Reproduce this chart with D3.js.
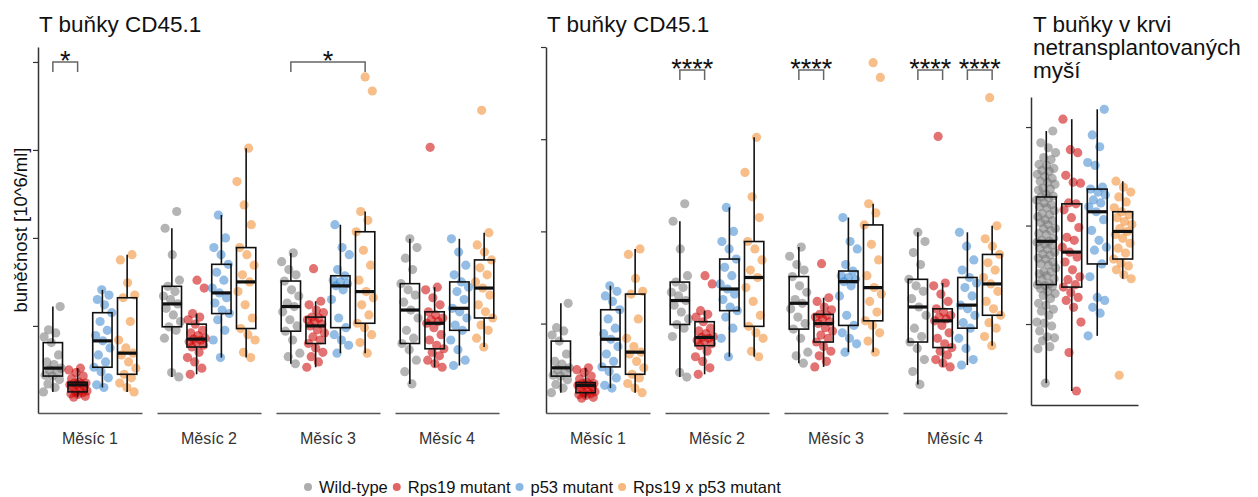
<!DOCTYPE html>
<html>
<head>
<meta charset="utf-8">
<script src="https://cdn.jsdelivr.net/npm/d3@7/dist/d3.min.js"></script>
<style>
  body { margin: 0; background: #fff; }
  svg { display: block; font-family: "Liberation Sans", Arial, sans-serif; }
</style>
</head>
<body>
<svg width="1258" height="497"></svg>
<script>
const months = ['Měsíc 1', 'Měsíc 2', 'Měsíc 3', 'Měsíc 4']
const genotypes = ['Wild-type', 'Rps19 mutant', 'p53 mutant', 'Rps19 x p53 mutant']
const colors = ['#767676', '#cc0000', '#3a87cf', '#f0892a']

// T buňky CD45.1 po transplantaci, [genotyp][myš]
const month1 = [
  [0.25, 0.30, 0.34, 0.39, 0.43, 0.44, 0.47, 0.50, 0.52, 0.56, 0.59, 0.67, 0.81, 0.875, 0.92, 0.955, 1.22],
  [0.19, 0.20, 0.22, 0.23, 0.24, 0.25, 0.26, 0.27, 0.30, 0.31, 0.33, 0.33, 0.34, 0.35, 0.35, 0.36, 0.40, 0.43, 0.47, 0.50, 0.52],
  [0.30, 0.33, 0.41, 0.48, 0.53, 0.59, 0.67, 0.75, 0.83, 0.89, 0.95, 1.05, 1.15, 1.24, 1.30, 1.35, 1.41],
  [0.25, 0.30, 0.35, 0.41, 0.45, 0.52, 0.59, 0.67, 0.69, 0.75, 0.84, 1.05, 1.32, 1.35, 1.49, 1.75, 1.81],
]
const month2 = [
  [0.42, 0.47, 0.86, 0.95, 0.99, 1.05, 1.125, 1.20, 1.25, 1.30, 1.34, 1.39, 1.45, 1.52, 1.81, 2.11, 2.30],
  [0.45, 0.52, 0.59, 0.64, 0.70, 0.76, 0.78, 0.81, 0.82, 0.84, 0.85, 0.86, 0.89, 0.92, 0.95, 1.02, 1.07, 1.10, 1.14, 1.43, 1.52],
  [0.64, 0.84, 0.95, 1.07, 1.14, 1.18, 1.26, 1.32, 1.375, 1.43, 1.52, 1.61, 1.70, 1.81, 1.89, 2.00, 2.26],
  [0.64, 0.70, 0.84, 0.90, 0.97, 1.09, 1.24, 1.39, 1.50, 1.58, 1.69, 1.81, 1.89, 2.15, 2.375, 2.64, 3.02],
]
const month3 = [
  [0.57, 0.65, 0.69, 0.84, 0.94, 1.00, 1.07, 1.16, 1.22, 1.26, 1.34, 1.41, 1.51, 1.58, 1.64, 1.73, 1.83],
  [0.53, 0.59, 0.65, 0.70, 0.75, 0.80, 0.84, 0.875, 0.92, 0.955, 1.00, 1.02, 1.05, 1.07, 1.09, 1.10, 1.15, 1.18, 1.24, 1.28, 1.65],
  [0.69, 0.78, 0.84, 0.90, 0.98, 1.09, 1.30, 1.41, 1.455, 1.48, 1.50, 1.52, 1.57, 1.64, 1.81, 1.89, 2.15],
  [0.69, 0.81, 0.90, 0.98, 1.03, 1.125, 1.24, 1.32, 1.39, 1.52, 1.69, 1.86, 2.07, 2.20, 2.30, 3.67, 3.83],
]
const month4 = [
  [0.34, 0.48, 0.61, 0.73, 0.80, 0.86, 0.95, 1.09, 1.18, 1.27, 1.35, 1.41, 1.48, 1.64, 1.77, 1.89, 1.99],
  [0.53, 0.57, 0.61, 0.66, 0.70, 0.74, 0.78, 0.84, 0.90, 0.98, 1.03, 1.05, 1.07, 1.09, 1.125, 1.16, 1.24, 1.32, 1.41, 1.44, 3.03],
  [0.55, 0.61, 0.73, 0.84, 0.95, 1.01, 1.09, 1.16, 1.20, 1.30, 1.39, 1.44, 1.50, 1.58, 1.69, 1.84, 1.99],
  [0.76, 0.86, 0.95, 1.01, 1.09, 1.16, 1.24, 1.35, 1.43, 1.50, 1.58, 1.66, 1.75, 1.84, 1.92, 2.06, 3.45],
]
const transplanted = [month1, month2, month3, month4]

// T buňky v krvi netransplantovaných myší
const naiveWT = [0.40, 0.75, 0.77, 0.83, 0.86, 0.87, 0.93, 0.98, 1.01, 1.02, 1.09, 1.13, 1.15, 1.19, 1.21, 1.26, 1.29, 1.31, 1.33, 1.36, 1.38, 1.39,
  1.40, 1.41, 1.45, 1.46, 1.49, 1.51, 1.53, 1.53, 1.57, 1.60, 1.61, 1.63, 1.66, 1.67, 1.70, 1.71, 1.73, 1.76, 1.77, 1.80, 1.81, 1.83,
  1.84, 1.85, 1.87, 1.91, 1.92, 1.95, 1.97, 1.97, 2.01, 2.03, 2.05, 2.06, 2.09, 2.11, 2.12, 2.15, 2.18, 2.19, 2.21, 2.23, 2.26, 2.28,
  2.29, 2.30, 2.32, 2.36, 2.37, 2.38, 2.42, 2.44, 2.45, 2.48, 2.50, 2.52, 2.55, 2.56, 2.58, 2.61, 2.62, 2.67, 2.69, 2.74, 2.79, 2.84, 2.96]
const naiveRps19 = [0.32, 0.71, 1.02, 1.17, 1.24, 1.27, 1.32, 1.375, 1.40, 1.45, 1.48, 1.55, 1.63, 1.68, 1.73,
  1.78, 1.85, 1.88, 1.98, 2.08, 2.16, 2.22, 2.23, 2.43, 2.44, 2.51, 2.74, 2.77, 3.08]
const naiveP53 = [0.88, 1.11, 1.17, 1.24, 1.27, 1.48, 1.61, 1.75, 1.78, 1.85, 1.95, 2.06, 2.14,
  2.19, 2.23, 2.26, 2.31, 2.34, 2.37, 2.39, 2.61, 2.64, 2.80, 2.92, 3.18]
const naiveDouble = [0.48, 1.46, 1.50, 1.55, 1.59, 1.62, 1.66, 1.72, 1.77, 1.82, 1.87, 1.91, 1.94,
  1.97, 2.01, 2.04, 2.08, 2.11, 2.14, 2.18, 2.24, 2.29, 2.34, 2.39, 2.45]
const naive = [naiveWT, naiveRps19, naiveP53, naiveDouble]

const ticksTransplant = [1, 2, 3, 4]
const ticksNaive = [1, 2, 3]

const signifA = [
  { month: 0, a: 0, b: 1, label: '*' },
  { month: 2, a: 0, b: 3, label: '*' },
]
const signifB = [
  { month: 1, a: 0, b: 1, label: '****' },
  { month: 2, a: 0, b: 1, label: '****' },
  { month: 3, a: 0, b: 1, label: '****' },
  { month: 3, a: 2, b: 3, label: '****' },
]

const svg = d3.select('svg')

const boxStats = (vals) => {
  const s = vals.slice().sort(d3.ascending)
  const q1 = d3.quantile(s, 0.25)
  const med = d3.quantile(s, 0.5)
  const q3 = d3.quantile(s, 0.75)
  const iqr = q3 - q1
  return {
    q1, med, q3,
    lo: d3.min(s.filter(v => v >= q1 - 1.5 * iqr)),
    hi: d3.max(s.filter(v => v <= q3 + 1.5 * iqr)),
  }
}

// deterministic horizontal jitter
const jitter = (i, seed) => ((i * 0.618034 + seed * 0.29) % 1) - 0.5

const drawGroups = (g, data, x, y, seed) => {
  const step = x.step()
  const bw = step * 0.78
  data.forEach((vals, gi) => {
    const cx = x(genotypes[gi])
    g.append('g').selectAll('circle')
      .data(vals)
      .join('circle')
      .attr('cx', (d, i) => cx + jitter(i, seed + gi) * 0.76 * step)
      .attr('cy', d => y(d))
      .attr('r', 4.6)
      .attr('fill', colors[gi])
      .attr('fill-opacity', 0.55)

    const st = boxStats(vals)
    const bx = g.append('g').attr('stroke', '#111').attr('fill', 'none')
    bx.append('line').attr('x1', cx).attr('x2', cx).attr('y1', y(st.hi)).attr('y2', y(st.q3)).attr('stroke-width', 1.6)
    bx.append('line').attr('x1', cx).attr('x2', cx).attr('y1', y(st.q1)).attr('y2', y(st.lo)).attr('stroke-width', 1.6)
    bx.append('rect')
      .attr('x', cx - bw / 2).attr('width', bw)
      .attr('y', y(st.q3)).attr('height', y(st.q1) - y(st.q3))
      .attr('stroke-width', 1.6)
    bx.append('line').attr('x1', cx - bw / 2).attr('x2', cx + bw / 2)
      .attr('y1', y(st.med)).attr('y2', y(st.med)).attr('stroke-width', 3.2)
  })
}

const styleAxis = (g, color) => {
  g.select('.domain').attr('stroke', color).attr('stroke-width', 1.5)
  g.selectAll('.tick line').attr('stroke', color).attr('stroke-width', 1.2)
}

const drawFacetPanel = (opt) => {
  const facets = d3.scaleBand().domain(months).range(opt.range).paddingInner(15 / 119)
  const inner = d3.scalePoint().domain(genotypes).range([0, facets.bandwidth()]).padding(0.6)
  const y = opt.y

  svg.append('text')
    .attr('x', opt.range[0] + 1).attr('y', 32)
    .attr('font-size', 22.5).attr('fill', '#111')
    .text('T buňky CD45.1')

  const ya = svg.append('g')
    .attr('transform', `translate(${opt.range[0]},0)`)
    .call(d3.axisLeft(y).tickValues(ticksTransplant).tickFormat('').tickSize(5).tickSizeOuter(0))
  styleAxis(ya, '#333')

  months.forEach((m, mi) => {
    const g = svg.append('g').attr('transform', `translate(${facets(m)},0)`)
    drawGroups(g, transplanted[mi], inner, y, mi * 3)

    const xa = g.append('g')
      .attr('transform', `translate(0,${y.range()[0]})`)
      .call(d3.axisBottom(inner).tickValues([]).tickSizeOuter(0))
    styleAxis(xa, '#555')

    g.append('text')
      .attr('x', facets.bandwidth() / 2).attr('y', 444)
      .attr('text-anchor', 'middle').attr('font-size', 16).attr('fill', '#333')
      .text(m)
  })

  opt.signif.forEach((s) => {
    const fx = facets(months[s.month])
    const x1 = fx + inner(genotypes[s.a])
    const x2 = fx + inner(genotypes[s.b])
    const by = y(opt.bracket)
    const ty = y(opt.bracket - opt.tip)
    svg.append('path')
      .attr('d', `M${x1},${ty}V${by}H${x2}V${ty}`)
      .attr('fill', 'none').attr('stroke', '#666').attr('stroke-width', 1.5)
    svg.append('text')
      .attr('x', (x1 + x2) / 2).attr('y', by + 8)
      .attr('text-anchor', 'middle').attr('font-size', 27).attr('fill', '#111')
      .text(s.label)
  })
}

const yA = d3.scaleLinear().domain([0.01, 4.17]).range([413, 47])
const yB = d3.scaleLinear().domain([0.03, 4.0]).range([413, 47])

drawFacetPanel({ range: [38, 499], y: yA, signif: signifA, bracket: 4.0, tip: 0.114 })
drawFacetPanel({ range: [546, 1007], y: yB, signif: signifB, bracket: 3.75, tip: 0.108 })

// y label
svg.append('text')
  .attr('transform', 'translate(27,230) rotate(-90)')
  .attr('text-anchor', 'middle').attr('font-size', 18.5).attr('fill', '#111')
  .text('buněčnost [10^6/ml]')

// right panel: netransplantované myši
const xC = d3.scalePoint().domain(genotypes).range([1031, 1138]).padding(0.6)
const yC = d3.scaleLinear().domain([0.178, 3.305]).range([405, 97])

const titleC = svg.append('text').attr('font-size', 22.5).attr('fill', '#111')
;['T buňky v krvi', 'netransplantovaných', 'myší'].forEach((t, i) => {
  titleC.append('tspan').attr('x', 1033).attr('y', 32 + i * 23).text(t)
})

drawGroups(svg.append('g'), naive, xC, yC, 5)

const yCa = svg.append('g')
  .attr('transform', 'translate(1031,0)')
  .call(d3.axisLeft(yC).tickValues(ticksNaive).tickFormat('').tickSize(5).tickSizeOuter(0))
styleAxis(yCa, '#333')
const xCa = svg.append('g')
  .attr('transform', 'translate(0,405)')
  .call(d3.axisBottom(xC).tickValues([]).tickSizeOuter(0))
styleAxis(xCa, '#333')

// legend
const legend = svg.append('g').attr('transform', 'translate(308,487)')
let lx = 0
genotypes.forEach((gname, i) => {
  legend.append('circle').attr('cx', lx).attr('cy', 0).attr('r', 4)
    .attr('fill', colors[i]).attr('fill-opacity', 0.6)
  const t = legend.append('text').attr('x', lx + 11).attr('y', 6)
    .attr('font-size', 16.5).attr('fill', '#111').text(gname)
  lx += 11 + t.node().getComputedTextLength() + 9
})
</script>
</body>
</html>
